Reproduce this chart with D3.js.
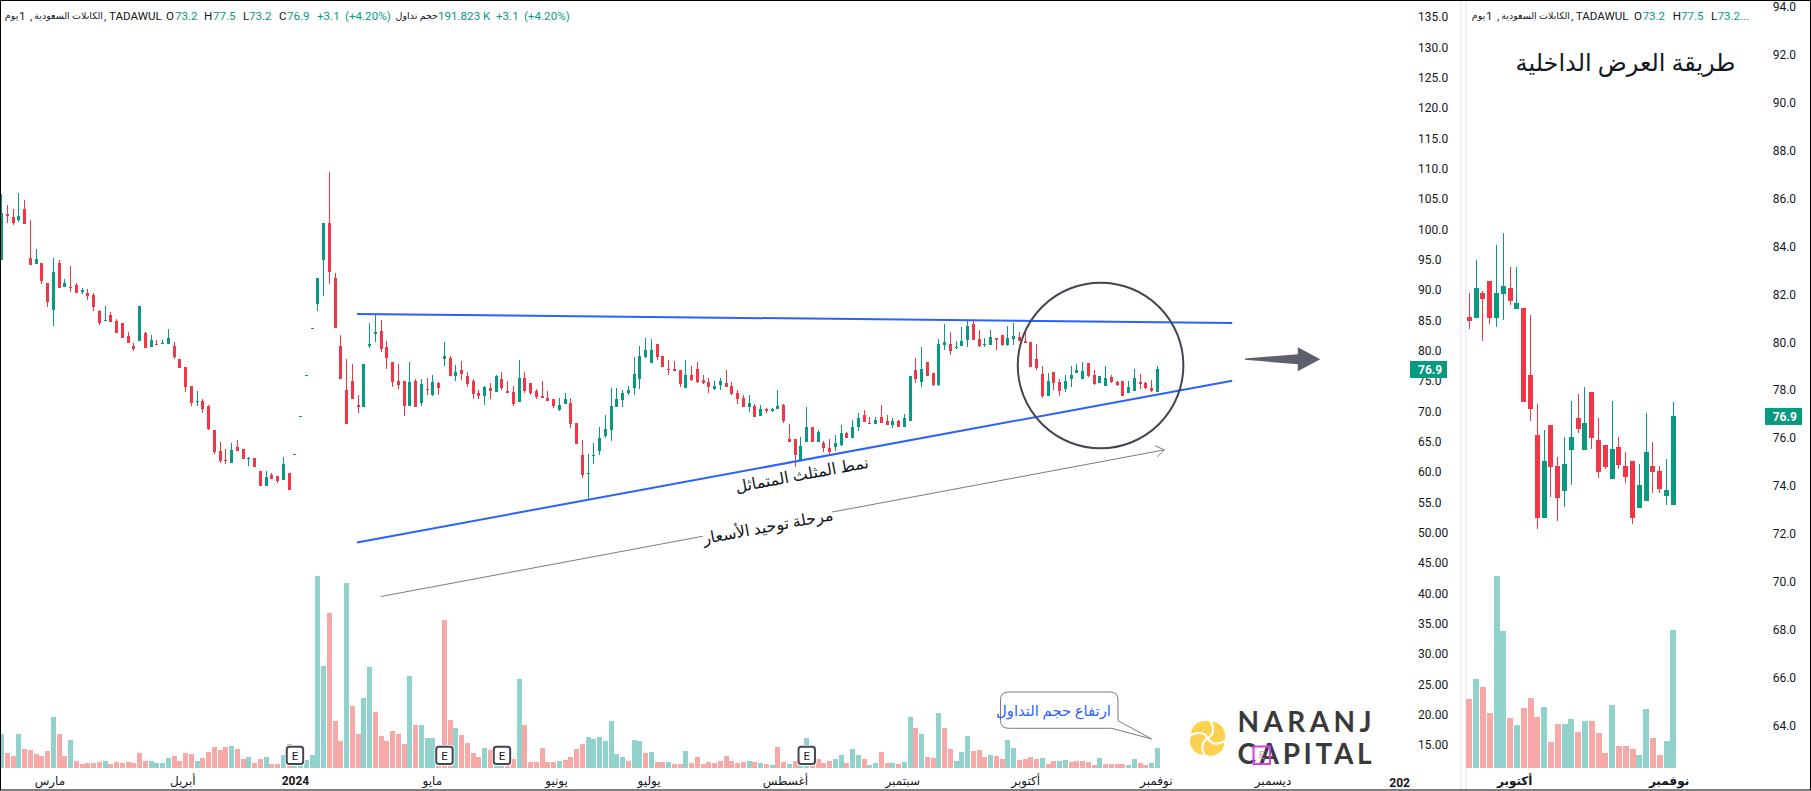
<!DOCTYPE html>
<html><head><meta charset="utf-8">
<style>
html,body{margin:0;padding:0;background:#fff;overflow:hidden}
svg{display:block}
text{font-family:Roboto,"DejaVu Sans",sans-serif}
</style>
<script src="https://cdn.jsdelivr.net/npm/d3@7"></script>
</head><body><svg id="c" width="1811" height="791"></svg>
<script>
// ---- main pane: daily candles
const opens=[95.01,102.54,102.04,101.55,103.36,95.29,94.30,94.46,91.16,86.71,
94.46,90.51,90.51,90.83,89.68,89.52,89.19,86.55,84.90,85.89,
84.90,84.57,82.43,80.78,81.60,82.92,80.61,81.11,81.11,81.11,
80.78,78.64,77.32,74.19,71.55,71.72,70.89,66.93,63.47,61.99,
61.49,64.13,63.80,62.15,62.32,60.18,57.70,59.52,59.35,58.69,
59.85,62.85,69.17,75.88,83.62,87.70,94.96,101.05,91.99,80.78,
73.53,75.01,71.06,70.73,80.78,82.76,83.25,80.61,78.14,75.01,
75.00,70.88,75.00,71.38,73.68,72.70,74.67,78.63,78.79,75.83,
76.82,75.83,75.00,73.03,72.53,73.85,73.19,75.33,73.36,73.19,
71.54,75.50,74.67,73.36,72.53,72.20,72.04,70.22,71.21,71.38,
68.08,62.81,59.68,62.64,63.47,65.94,66.93,70.72,71.87,73.03,
73.85,75.33,78.96,77.97,81.10,79.12,76.98,76.98,76.82,73.85,
75.99,76.98,75.17,74.84,73.68,74.34,74.67,74.18,73.03,72.20,
70.72,70.88,69.23,70.39,70.06,70.39,71.05,65.44,65.44,61.82,
64.95,67.42,64.95,64.78,63.96,64.13,64.45,66.43,65.61,67.42,
69.40,68.08,67.92,69.07,68.41,67.75,68.41,67.42,68.41,76.82,
74.84,78.13,76.32,74.34,80.94,81.10,80.44,80.77,81.76,84.40,
81.93,80.94,80.94,82.09,82.58,80.94,81.93,82.26,81.60,81.43,
78.63,76.16,72.53,76.49,74.84,73.68,75.33,76.32,75.33,77.97,
75.99,74.67,74.18,75.66,74.84,75.00,73.03,73.36,74.84,74.67,
73.85,73.2];
const highs=[105.83,104.02,103.36,106.0,104.84,101.55,96.77,94.46,91.16,95.29,
94.96,91.82,93.97,91.16,90.34,90.18,89.52,86.71,87.37,86.38,
85.23,84.57,83.09,81.27,87.37,83.09,82.59,81.77,81.77,83.58,
81.44,78.64,77.32,74.19,73.36,72.05,71.06,66.93,64.96,63.80,
64.79,65.29,63.80,62.48,62.32,60.18,60.18,59.85,59.35,62.48,
59.85,62.98,69.30,76.01,83.75,91.99,101.05,109.46,92.81,82.59,
78.64,77.81,72.70,77.81,84.57,86.05,85.07,81.60,78.14,77.81,
75.00,78.13,75.33,75.33,75.50,75.99,74.84,81.43,79.12,77.64,
78.30,76.49,75.33,73.52,74.18,74.67,75.99,76.49,75.00,74.18,
78.46,76.49,74.67,73.68,75.00,73.36,72.04,72.20,73.03,72.20,
68.08,65.28,62.97,64.78,67.42,69.40,73.85,73.85,73.52,74.18,
78.96,80.77,82.09,81.93,81.10,79.12,78.46,78.30,76.82,78.46,
77.48,78.13,75.99,75.50,75.00,75.50,76.82,74.84,73.52,72.70,
72.70,71.21,71.05,70.55,70.55,73.52,71.21,67.92,65.44,65.77,
70.72,67.42,66.93,65.11,65.44,66.10,67.75,66.60,68.58,69.73,
70.22,69.07,69.07,71.05,69.40,68.91,68.58,69.56,75.83,78.79,
80.61,78.13,76.32,81.93,84.40,83.08,81.60,83.90,85.06,85.06,
83.41,82.09,83.41,82.09,82.58,84.07,84.56,83.08,83.25,81.43,
81.10,77.48,76.32,76.49,75.33,75.99,77.48,77.81,78.13,77.97,
76.82,75.83,77.48,75.99,75.00,75.00,75.00,76.98,76.16,74.84,
75.17,77.5];
const lows=[95.01,101.11,100.78,101.27,100.89,94.13,94.30,91.05,87.21,84.08,
90.34,90.51,89.68,89.52,89.35,88.36,86.55,84.24,84.90,84.74,
82.92,82.10,81.27,79.96,81.60,80.45,80.61,80.95,81.11,81.11,
78.64,77.15,73.20,70.89,70.89,69.74,66.94,62.98,61.49,61.33,
61.49,63.47,62.15,60.99,60.84,57.70,57.70,58.86,58.20,58.69,
57.04,62.85,69.17,75.88,83.62,86.55,89.02,91.00,83.75,75.34,
67.93,72.05,69.74,70.73,80.45,81.44,79.79,77.00,74.02,73.69,
69.23,70.88,70.72,70.88,72.70,72.53,72.70,77.48,75.83,75.00,
75.17,74.01,72.04,72.04,71.05,72.04,73.19,73.52,73.03,70.88,
71.54,73.03,72.70,72.04,72.20,71.71,70.55,70.06,71.21,67.26,
64.62,59.02,55.55,61.32,62.81,65.61,65.11,70.72,70.72,72.70,
72.70,73.68,78.79,77.97,78.46,77.31,75.99,76.65,74.01,73.85,
75.00,74.67,74.51,73.03,73.52,73.52,74.01,72.70,71.21,70.72,
69.89,69.07,69.23,69.73,69.89,70.39,68.08,64.95,60.83,61.82,
64.95,64.95,64.95,63.30,62.97,63.47,64.29,65.61,65.61,66.76,
68.25,67.92,67.92,68.08,67.75,67.26,67.42,67.42,68.41,74.67,
74.01,75.83,74.18,74.18,80.11,79.29,80.28,80.77,80.61,81.76,
80.61,80.61,80.94,80.11,80.77,80.77,80.94,81.60,81.27,77.31,
76.82,72.20,72.53,73.52,72.53,73.19,74.01,76.32,75.33,75.66,
74.34,74.67,74.18,74.67,74.18,72.53,73.03,73.36,73.68,73.68,
73.19,73.2];
const closes=[102.70,102.21,101.05,102.21,100.89,94.13,95.12,91.55,88.03,92.98,
90.34,91.16,90.34,89.52,90.01,89.02,87.21,84.57,85.07,84.74,
82.92,82.10,81.27,80.29,87.37,80.45,81.77,80.95,81.27,82.10,
78.97,77.15,74.02,71.39,71.72,70.40,67.10,63.31,61.82,61.82,
63.64,63.47,62.15,62.32,60.84,57.70,59.19,58.86,58.53,61.33,
57.04,62.98,69.30,76.01,83.75,91.99,101.05,92.98,83.75,75.34,
67.93,72.05,70.73,77.81,81.11,83.09,80.29,78.80,74.85,74.35,
70.88,74.84,70.72,74.51,73.52,74.84,73.85,79.12,75.83,76.49,
76.16,74.51,72.86,72.53,74.01,73.36,75.83,73.85,73.03,71.21,
75.50,73.36,73.03,72.37,72.20,71.71,70.88,71.05,72.04,67.92,
64.62,59.51,59.84,62.81,65.61,67.09,70.88,72.04,73.03,73.52,
76.16,79.12,80.11,80.11,78.96,77.31,76.82,76.65,74.51,75.99,
75.17,74.84,74.67,74.01,74.18,75.00,74.01,72.86,72.04,70.72,
71.38,69.07,70.39,70.06,70.39,70.88,68.41,64.95,62.81,64.29,
67.42,64.95,66.60,63.96,63.30,64.78,66.43,65.61,67.42,68.91,
68.25,67.92,68.58,68.08,67.75,68.41,67.42,68.91,75.83,75.33,
76.98,75.83,74.34,81.10,81.43,79.95,80.61,81.60,84.07,81.76,
80.77,81.10,82.26,81.76,80.94,82.09,82.42,81.60,81.27,77.31,
77.15,72.53,75.00,74.67,73.36,75.00,75.99,76.82,76.65,75.83,
74.51,75.83,75.50,74.84,74.34,72.53,74.01,75.50,74.51,73.85,
73.36,76.9];
// volume in thousands, with the pane's own up/down colouring (G/R)
const volumes=[326,144,115,326,182,173,134,115,163,490,
326,115,269,67,38,48,48,58,67,38,
58,48,58,48,144,67,67,48,48,96,
115,67,144,134,67,96,154,202,173,202,
211,182,86,106,48,86,106,38,38,125,
230,77,38,77,125,1843,979,1488,451,259,
1776,595,326,672,970,538,307,259,355,326,
230,883,413,413,288,288,19,1421,461,384,
317,240,144,106,192,173,29,45,38,86,
854,413,58,58,192,58,58,67,77,106,
182,230,298,278,298,259,451,134,106,67,
269,259,144,154,58,58,58,38,38,163,
48,106,38,58,48,67,115,67,48,58,
67,58,48,38,29,202,58,38,67,29,
288,29,86,48,67,86,125,48,182,125,
86,29,48,154,48,48,38,58,490,384,
326,106,96,528,384,182,67,154,307,163,
173,106,125,115,86,269,192,77,86,106,
86,96,38,67,67,77,58,67,67,58,
29,96,38,38,38,38,29,86,48,29,
48,192];
const volumeDirs="GRRGRRRRRG"+"RRGRRRRRGR"+"RRRRRRGGGG"+"RRRRGRRRRR"+"GRRGRRGRRG"+"RGGGGGGRRR"+"GRRGGRRRRR"+"RGRGGGRRRG"+"RRRRGRGGRR"+"GRRRRRRGRR"+"RRGGGGGGGR"+"GGRGRRGRRG"+"RRRRRRRRRR"+"GRGRGRRGRG"+"GRRRRGGRGG"+"RGGRRGRGGR"+"GRRGRRGGGR"+"RRGRRGGRRR"+"RGRRGGRRRR"+"RGRRRRGGRR"+"GG";
// ---- inner pane: the last sessions, enlarged
const innerOpens=[81.05,81.01,82.05,82.55,81.01,82.01,82.26,81.38,81.43,78.63,76.12,72.66,76.54,74.83,73.78,75.50,76.83,75.50,77.92,75.91,75.70,74.28,75.62,74.83,75.04,73.07,73.37,74.83,74.62,73.57,73.2];
const innerHighs=[82.05,83.43,82.13,82.55,84.06,84.56,83.14,83.14,81.43,81.13,77.42,76.33,76.54,75.20,76.04,77.54,77.83,78.13,77.92,76.83,75.70,77.54,76.04,75.41,75.04,74.91,77.04,75.83,74.83,75.12,77.5];
const innerLows=[80.55,81.01,80.05,80.76,80.63,80.92,81.55,81.38,77.50,76.71,72.20,72.66,73.53,72.53,73.11,74.03,76.21,75.50,75.54,74.33,74.70,74.28,74.70,74.12,72.41,73.07,73.37,73.70,73.70,73.20,73.2];
const innerCloses=[80.88,82.26,81.80,81.01,82.05,82.34,81.72,81.63,77.50,77.21,72.66,75.04,74.79,73.49,74.91,76.04,76.37,76.62,75.99,74.58,74.79,75.54,74.87,74.37,72.66,74.03,75.41,74.58,73.87,73.82,76.9];
const innerVolumes=[96,124,113,76,267,190,69,60,83,97,71,85,36,61,61,68,50,65,65,49,21,88,31,31,26,18,82,42,18,38,192];
const innerVolumeDirs="RGRRGGRGRRRGRRGGRGRRRGRRRGGRRGG";
// ---- axes
const priceTicks=[135,130,125,120,115,110,105,100,95,90,85,80,75,70,65,60,55,50,45,40,35,30,25,20,15];
const innerPriceTicks=[94,92,90,88,86,84,82,80,78,76,74,72,70,68,66,64];
const monthTicks=[[8.3,"مارس"],[31.4,"أبريل"],[51,"2024"],[74.8,"مايو"],[96.4,"يونيو"],[112.5,"يوليو"],[136.2,"أغسطس"],[156.6,"سبتمبر"],[178,"أكتوبر"],[200.7,"نوفمبر"],[221,"ديسمبر"],[243.7,"2025"]];
const innerMonthTicks=[[6.6,"أكتوبر"],[29.3,"نوفمبر"]];
const earnings=[51,77,87,140];
const lastPrice=76.9;
// ---- drawings, in (bar index, price)
const upperTrend=[[61.8,86.05],[214,84.57]];
const lowerTrend=[[61.8,48.39],[214,75.04]];
const rangeArrow=[[65.9,39.47],[202.2,63.65]];
const bigArrowStart=[216.2,78.6], bigArrowNeck=[225.4,78.6], bigArrowTip=[229.3,78.6];
const circleMark={i:191.1,p:77.56,ri:14.4};
const callout={left:173.7,right:194.1,top:42.2,tail:[200,0.0]};

const up="#089981",dn="#F23645",volUp="#92D2CC",volDn="#F7A9A7",ink="#131722",blue="#2962FF",grey="#787B86";
const svg=d3.select("#c");
svg.append("rect").attr("width",1811).attr("height",791).attr("fill","#fff");

const x=d3.scaleLinear().domain([0,201]).range([1.7,1157.5]);
const y=d3.scaleLinear().domain([15,135]).range([745,17]);
const v=d3.scaleLinear().domain([0,1843]).range([768,576]);
const xi=d3.scaleLinear().domain([0,30]).range([1469.3,1673.3]);
const yi=d3.scaleLinear().domain([64,94]).range([725.4,6.9]);
const vi=d3.scaleLinear().domain([0,267]).range([768,576]);

function volumePane(g,xs,vs,vals,dirs,w){
  g.selectAll("rect").data(vals).join("rect")
   .attr("x",(d,i)=>Math.round(xs(i)-w/2)).attr("width",w)
   .attr("y",d=>vs(d)).attr("height",d=>vs(0)-vs(d))
   .attr("fill",(d,i)=>dirs[i]==="G"?volUp:volDn);
}
function candlePane(g,xs,ys,o,h,l,c,w){
  const idx=d3.range(o.length);
  const col=i=>c[i]>=o[i]?up:dn;
  const s=g.append("g").attr("shape-rendering","crispEdges");
  s.selectAll(".w").data(idx).join("rect").attr("class","w")
   .attr("x",i=>Math.round(xs(i)-.5)).attr("width",1)
   .attr("y",i=>ys(h[i])).attr("height",i=>Math.max(0,ys(l[i])-ys(h[i]))).attr("fill",col);
  s.selectAll(".b").data(idx).join("rect").attr("class","b")
   .attr("x",i=>Math.round(xs(i)-.5)-(w-1)/2).attr("width",w)
   .attr("y",i=>ys(Math.max(o[i],c[i])))
   .attr("height",i=>Math.max(1,Math.abs(ys(o[i])-ys(c[i])))).attr("fill",col);
}
volumePane(svg.append("g").attr("shape-rendering","crispEdges"),x,v,volumes,volumeDirs,5);
candlePane(svg.append("g"),x,y,opens,highs,lows,closes,3);

// drawings
const lineGen=d3.line().x(d=>x(d[0])).y(d=>y(d[1]));
svg.selectAll(".trend").data([upperTrend,lowerTrend]).join("path").attr("class","trend")
  .attr("d",lineGen).attr("fill","none").attr("stroke",blue).attr("stroke-width",2);
svg.append("circle").attr("cx",x(circleMark.i)).attr("cy",y(circleMark.p))
  .attr("r",x(circleMark.ri)-x(0)).attr("fill","none").attr("stroke","#434651").attr("stroke-width",2);

// thin range arrow
const ra0=[x(rangeArrow[0][0]),y(rangeArrow[0][1])],ra1=[x(rangeArrow[1][0]),y(rangeArrow[1][1])];
const raAng=Math.atan2(ra1[1]-ra0[1],ra1[0]-ra0[0]);
svg.append("path").attr("d",d3.line()([ra0,ra1])).attr("stroke",grey).attr("stroke-width",1).attr("fill","none");
const hd=a=>[ra1[0]-10*Math.cos(raAng+a),ra1[1]-10*Math.sin(raAng+a)];
svg.append("path").attr("d",d3.line()([hd(.6),ra1,hd(-.6)])).attr("stroke",grey).attr("stroke-width",1).attr("fill","none");

function rotatedLabel(t,cx,cy,bg){
  const deg=raAng*180/Math.PI;
  const g=svg.append("g").attr("transform",`translate(${cx},${cy}) rotate(${deg})`);
  if(bg) g.append("rect").attr("x",-66).attr("y",-8).attr("width",132).attr("height",16).attr("fill","#fff");
  g.append("text").attr("text-anchor","middle").attr("dy",".32em").attr("font-size",16).attr("fill",ink).text(t);
}
rotatedLabel("مرحلة توحيد الأسعار",768,527,true);
rotatedLabel("نمط المثلث المتماثل",802,475,false);

// big grey arrow
const bs=[x(bigArrowStart[0]),y(bigArrowStart[1])],bn=[x(bigArrowNeck[0]),y(bigArrowNeck[1])],bt=[x(bigArrowTip[0]),y(bigArrowTip[1])];
svg.append("path").attr("fill","#5D606B").attr("d",d3.line()([
 [bs[0],bs[1]-.7],[bn[0],bn[1]-5],[bn[0],bn[1]-12],[bt[0],bt[1]],[bn[0],bn[1]+12],[bn[0],bn[1]+5],[bs[0],bs[1]+.7]])+"Z");

// callout
const cL=1000.5,cR=1118,cT=692,cB=728.3,tip=[x(callout.tail[0]),v(callout.tail[1])-29];
const r=8;
svg.append("path").attr("fill","#fff").attr("stroke",grey).attr("stroke-width",1).attr("d",
 `M${cL+r},${cT}H${cR-r}Q${cR},${cT} ${cR},${cT+r}V720.7L${tip[0]},${tip[1]}L1111.7,${cB}H${cL+r}Q${cL},${cB} ${cL},${cB-r}V${cT+r}Q${cL},${cT} ${cL+r},${cT}Z`);
svg.append("text").attr("x",1053.5).attr("y",711).attr("text-anchor","middle").attr("dy",".32em").attr("font-size",14.8).attr("fill",blue).text("ارتفاع حجم التداول");

// earnings flags
const ef=svg.append("g").selectAll("g").data(earnings).join("g").attr("transform",d=>`translate(${x(d)},755.4)`);
ef.append("rect").attr("x",-10).attr("y",-10.5).attr("width",20).attr("height",21).attr("rx",4).attr("fill","#fff");
ef.append("rect").attr("x",-8.2).attr("y",-8.6).attr("width",16.4).attr("height",17.2).attr("rx",2.5).attr("fill","#fff").attr("stroke","#434651").attr("stroke-width",2);
ef.append("text").attr("text-anchor","middle").attr("dy",".36em").attr("font-size",11.5).attr("fill",ink).text("E");

// logo
const logo=svg.append("g");
const petal="M0,0 C6,-3 8,-10 3,-19 A16,16 0 0 0 -19,-3 C-10,-8 -3,-6 0,0Z";
logo.append("g").attr("transform","translate(1207.7,738.3) scale(.92)").selectAll("path").data([0,90,180,270]).join("path")
  .attr("d",petal).attr("transform",d=>`rotate(${d})`).attr("fill","#FDD150").attr("stroke","#fff").attr("stroke-width",2.2);
[["NARANJ",732.3],["CAPITAL",764]].forEach(([t,yy])=>{
  logo.append("text").attr("x",1237.5).attr("y",yy).attr("textLength",134).attr("lengthAdjust","spacing")
   .attr("font-size",28).attr("font-weight",700).attr("fill","#3A3A3A").style("font-family","Lato,'Open Sans'").text(t);
});
const pe=logo.append("g");
pe.append("rect").attr("x",1253.5).attr("y",746.5).attr("width",16.5).attr("height",17.5).attr("fill","none").attr("stroke","#D93EEB").attr("stroke-width",2);
pe.append("text").attr("x",1261.8).attr("y",755.4).attr("text-anchor","middle").attr("dy",".36em").attr("font-size",11).attr("fill","#C9A8D6").text("E");

// axis panel separators
[1460,1465].forEach(sx=>svg.append("rect").attr("x",sx).attr("y",0).attr("width",2).attr("height",791).attr("fill","#F0F0F6"));

// axes
function styleAxis(g){g.select(".domain").remove();g.selectAll("line").remove();g.selectAll("text").attr("fill",ink);g.attr("font-size",12).attr("font-family",null);}
const fmt=p=>p<=50?d3.format(".2f")(p):d3.format(".1f")(p);
svg.append("g").attr("transform","translate(1418,0)")
  .call(d3.axisRight(y).tickValues(priceTicks).tickFormat(fmt).tickSize(0).tickPadding(0)).call(styleAxis);
svg.append("g").attr("transform","translate(1772.7,0)")
  .call(d3.axisRight(yi).tickValues(innerPriceTicks).tickFormat(d3.format(".1f")).tickSize(0).tickPadding(0)).call(styleAxis);

const monthMap=new Map(monthTicks);
const xAxisG=svg.append("g").attr("transform","translate(0,776)")
  .call(d3.axisBottom(x).tickValues(monthTicks.map(d=>d[0]).filter(d=>d<242)).tickFormat(d=>monthMap.get(d)).tickSize(0).tickPadding(0)).call(styleAxis);
xAxisG.selectAll("text").filter(function(){return this.textContent==="2024"}).attr("font-weight",700);
svg.append("clipPath").attr("id","axc").append("rect").attr("x",1300).attr("y",770).attr("width",111).attr("height",20);
svg.append("g").attr("clip-path","url(#axc)").append("text").attr("x",x(243.7)).attr("y",787).attr("text-anchor","middle").attr("font-size",12).attr("fill",ink).attr("font-weight",700).text("2025");

// inner pane
volumePane(svg.append("g").attr("shape-rendering","crispEdges"),xi,vi,innerVolumes,innerVolumeDirs,6);
candlePane(svg.append("g"),xi,yi,innerOpens,innerHighs,innerLows,innerCloses,5);
const innerMap=new Map(innerMonthTicks);
svg.append("g").attr("transform","translate(0,776)")
  .call(d3.axisBottom(xi).tickValues(innerMonthTicks.map(d=>d[0])).tickFormat(d=>innerMap.get(d)).tickSize(0).tickPadding(0)).call(styleAxis)
  .selectAll("text").attr("font-weight",700);

// last price tags
[[y,1410,1418],[yi,1765,1772.7]].forEach(([ys,bx,tx])=>{
  svg.append("rect").attr("x",bx).attr("y",ys(lastPrice)-8.5).attr("width",37).attr("height",17).attr("fill",up);
  svg.append("text").attr("x",tx).attr("y",ys(lastPrice)).attr("dy",".34em").attr("font-size",12).attr("font-weight",700).attr("fill","#fff").text(lastPrice.toFixed(1));
});

// header legends
const legendY=16;
function put(g,t,xx,c,fs){g.append("text").attr("x",xx).attr("y",legendY).attr("dy",".34em").attr("font-size",fs||11.6).attr("fill",c||ink).text(t);}
const hdr=svg.append("g");
function symbol(g,x0){
  g.append("text").attr("x",x0+12.3).attr("y",legendY).attr("dy",".34em").attr("font-size",9.5).attr("text-anchor","end").attr("fill",ink).text("يوم");
  put(g,"1",x0+13,ink);
  put(g,",",x0+24,ink);
  g.append("text").attr("x",x0+97).attr("y",legendY).attr("dy",".34em").attr("font-size",9.5).attr("text-anchor","end").attr("fill",ink).text("الكابلات السعودية");
  put(g,",",x0+98,ink);
}
symbol(hdr,6);
[["TADAWUL",109,ink],["O",166,ink],["73.2",175,up],["H",204,ink],["77.5",213,up],["L",243,ink],["73.2",249,up],["C",279,ink],["76.9",287,up],["+3.1",317,up],["(+4.20%)",345,up],["191.823 K",438,up],["+3.1",496,up],["(+4.20%)",524,up]].forEach(d=>put(hdr,d[0],d[1],d[2]));
hdr.append("text").attr("x",438).attr("y",legendY).attr("dy",".34em").attr("font-size",9.5).attr("text-anchor","end").attr("fill",ink).text("حجم تداول");
symbol(hdr,1473);
[["TADAWUL",1575.7,ink],["O",1634,ink],["73.2",1642.5,up],["H",1672.7,ink],["77.5",1681,up],["L",1711,ink],["73.2...",1717.5,up]].forEach(d=>put(hdr,d[0],d[1],d[2]));
svg.append("text").attr("x",1625.5).attr("y",63).attr("text-anchor","middle").attr("dy",".34em").attr("font-size",24).attr("fill",ink).text("طريقة العرض الداخلية");

// frame
svg.append("rect").attr("x",.5).attr("y",.5).attr("width",1810).attr("height",789.5).attr("fill","none").attr("stroke","#000").attr("stroke-width",1);
</script></body></html>
